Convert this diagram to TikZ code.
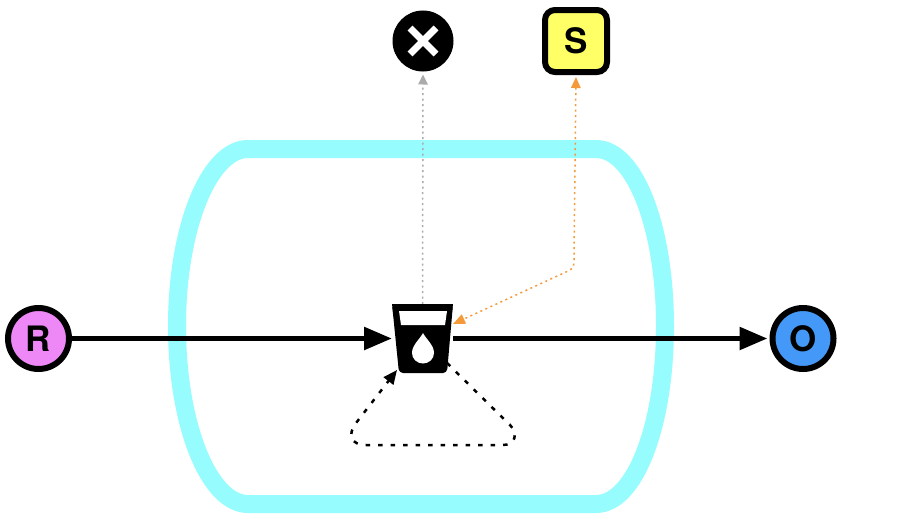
\documentclass[tikz,border=0pt]{standalone}
\usepackage{fontspec}
\setmainfont{TeX Gyre Heros}
\usetikzlibrary{arrows.meta}
\definecolor{compcol}{HTML}{97FCFE}
\definecolor{pinkcol}{HTML}{EE88F6}
\definecolor{bluecol}{HTML}{4499F8}
\definecolor{yellowcol}{HTML}{FFFF66}
\definecolor{orangecol}{HTML}{F59A38}
\definecolor{greycol}{HTML}{ABABAB}
\tikzset{
  x=1pt,y=-1pt,
  lab/.style={font=\fontsize{35}{35}\selectfont\bfseries,text=black,inner sep=0pt},
  species/.style={lab,circle,draw=black,line width=6pt,minimum size=61pt},
  sinkbox/.style={circle,fill=black,draw=black,line width=1pt,inner sep=0pt,minimum size=60pt},
  sidebox/.style={lab,rectangle,rounded corners=10pt,draw=black,line width=6pt,fill=yellowcol,minimum size=62pt},
  cupbox/.style={rectangle,inner sep=0pt,outer sep=0pt,minimum width=61pt,minimum height=69pt},
  flow/.style={line width=5.5pt,draw=black,-{Triangle[length=28pt,width=22pt]}},
  loopline/.style={line width=2.5pt,draw=black,dash pattern=on 4.5pt off 8pt,-{Triangle[length=14pt,width=12pt]}},
  greyline/.style={line width=1.5pt,draw=greycol,dash pattern=on 2pt off 3.5pt,-{Triangle[length=10pt,width=9.5pt]}},
  orangeline/.style={line width=1.5pt,draw=orangecol,dash pattern=on 2pt off 3.5pt,{Triangle[length=11pt,width=9.5pt]}-{Triangle[length=12pt,width=10pt]}},
  comp/.style={draw=compcol,line width=18pt}
}
\begin{document}
\begin{tikzpicture}
\useasboundingbox (0,0) rectangle (904,530);
% compartment
\draw[comp] (248,149) -- (596,149)
  .. controls (635,149) and (665,228) .. (665,326)
  .. controls (665,425) and (635,504) .. (596,504)
  -- (248,504)
  .. controls (209,504) and (177,425) .. (177,326)
  .. controls (177,228) and (209,149) .. (248,149) -- cycle;
% nodes
\node[species,fill=pinkcol] (r) at (38.5,338.5) {R};
\node[species,fill=bluecol] (o) at (803,338.5) {O};
\node[sinkbox] (x) at (423,41) {};
\node[sidebox] (s) at (576,41) {S};
\node[cupbox] (cup) at (422.5,338.5) {};
\coordinate (orangein) at (453,324);
\coordinate (benda) at (574,258);
\coordinate (bendb) at (566,272);
\coordinate (bendc) at (574,268);
\coordinate (loopa) at (447,363);
\coordinate (loopb) at (510,425);
\coordinate (loopc) at (503,445);
\coordinate (loopd) at (366,445);
\coordinate (loope) at (356,423);
\coordinate (loopf) at (397,370);
% connectors
\draw[flow] (r) -- (cup.west);
\draw[flow,shorten >=2pt] (cup.east) -- (o.west);
\draw[greyline,shorten >=3pt] (cup.north) -- (x.south);
\draw[orangeline,shorten <=2pt] (s.south) -- (benda) .. controls (bendc) .. (bendb) -- (orangein);
\draw[loopline] (loopa) -- (loopb) .. controls (518,433) and (516,445) .. (loopc) -- (loopd) .. controls (351,445) and (347,435) .. (loope) -- (loopf);
% glyphs
\fill[black,rounded corners=4pt] (cup.north west) -- (cup.north east) -- (447,373) -- (399,373) -- cycle;
\fill[black] (cup.north west) -- (cup.north east) -- ++(-1,8) -- (393,312) -- cycle;
\fill[white] (399,311) -- (447,311) -- (445,325) -- (401,325) -- cycle;
\fill[white] (423,333) .. controls (426,339) and (434,345) .. (434,353)
  arc[start angle=0,end angle=180,x radius=11,y radius=10.5]
  .. controls (412,345) and (420,339) .. (423,333) -- cycle;
\draw[white,line width=7pt] (x.center) ++(-13,-13) -- ++(26,26);
\draw[white,line width=7pt] (x.center) ++(13,-13) -- ++(-26,26);
\end{tikzpicture}
\end{document}
